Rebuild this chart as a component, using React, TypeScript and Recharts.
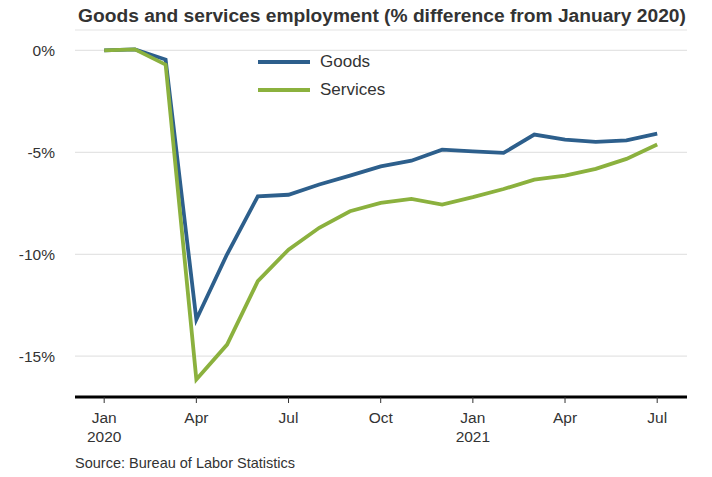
import React from "react";
import { LineChart, Line, XAxis, YAxis, CartesianGrid } from "recharts";

const months = ["Jan 2020","Feb","Mar","Apr","May","Jun","Jul","Aug","Sep","Oct","Nov","Dec","Jan 2021","Feb","Mar","Apr","May","Jun","Jul"];
const goods = [0, 0.05, -0.45, -13.2, -10.0, -7.16, -7.08, -6.58, -6.14, -5.69, -5.41, -4.87, -4.95, -5.03, -4.13, -4.38, -4.49, -4.41, -4.08];
const services = [0, 0.05, -0.7, -16.14, -14.43, -11.32, -9.77, -8.7, -7.89, -7.48, -7.28, -7.56, -7.2, -6.8, -6.34, -6.14, -5.81, -5.32, -4.62];
const xTickIdx = [0, 3, 6, 9, 12, 15, 18];
const xTickLabels = [["Jan", "2020"], ["Apr"], ["Jul"], ["Oct"], ["Jan", "2021"], ["Apr"], ["Jul"]];
const yTicks = [0, -5, -10, -15];

const data = months.map((m, i) => ({ i, month: m, goods: goods[i], services: services[i] }));

const GOODS = "#2d5f8c";
const SERV = "#8bb13e";
const FONT = "'Liberation Sans', Arial, sans-serif";

const MonthTick = (props: any) => {
  const { x, y, payload } = props;
  const k = xTickIdx.indexOf(payload.value);
  const lines = k >= 0 ? xTickLabels[k] : [];
  return (
    <g transform={`translate(${x},${y})`}>
      <text textAnchor="middle" fontSize={15.5} fill="#333" fontFamily={FONT}>
        {lines.map((l, j) => (
          <tspan key={j} x={0} y={j === 0 ? 18 : 37}>{l}</tspan>
        ))}
      </text>
    </g>
  );
};

export default function App() {
  return (
    <div style={{ position: "absolute", left: 0, top: 0, width: 712, height: 477, background: "#fff", fontFamily: FONT }}>
      <div style={{ position: "absolute", left: 0, width: 764, top: 5, textAlign: "center", fontSize: 19.2, fontWeight: "bold", color: "#333" }}>
        Goods and services employment (% difference from January 2020)
      </div>
      <LineChart width={712} height={477} data={data} margin={{ top: 30, right: 25, bottom: 0, left: 0 }}>
        <CartesianGrid vertical={false} stroke="#e4e4e4" strokeWidth={1.2} />
        <XAxis
          dataKey="i"
          type="number"
          domain={[-0.95, 18.97]}
          ticks={xTickIdx}
          interval={0}
          height={80}
          axisLine={{ stroke: "#000", strokeWidth: 3 }}
          tickLine={{ stroke: "#333", strokeWidth: 1 }}
          tickSize={6}
          tick={<MonthTick />}
        />
        <YAxis
          type="number"
          domain={[-17, 1]}
          ticks={yTicks}
          width={75}
          axisLine={false}
          tickLine={false}
          tickMargin={14}
          tickFormatter={(v: number) => `${v}%`}
          tick={{ fontSize: 15.5, fill: "#333", fontFamily: FONT }}
        />
        <Line type="linear" dataKey="goods" stroke={GOODS} strokeWidth={3.8} dot={false} isAnimationActive={false} />
        <Line type="linear" dataKey="services" stroke={SERV} strokeWidth={3.8} dot={false} isAnimationActive={false} />
      </LineChart>
      <div style={{ position: "absolute", left: 258, top: 50, fontSize: 17, color: "#333" }}>
        <div style={{ display: "flex", alignItems: "center", height: 24 }}>
          <div style={{ width: 52, height: 4, background: GOODS, marginRight: 10 }} />
          <span>Goods</span>
        </div>
        <div style={{ display: "flex", alignItems: "center", height: 24, marginTop: 4 }}>
          <div style={{ width: 52, height: 4, background: SERV, marginRight: 10 }} />
          <span>Services</span>
        </div>
      </div>
      <div style={{ position: "absolute", left: 75, top: 455, fontSize: 14.5, color: "#333" }}>
        Source: Bureau of Labor Statistics
      </div>
    </div>
  );
}
